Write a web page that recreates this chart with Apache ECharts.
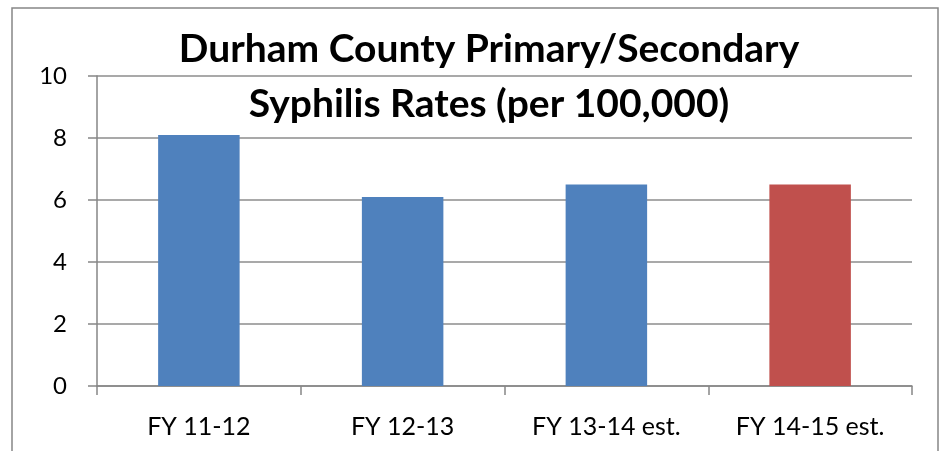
<!DOCTYPE html>
<html>
<head>
<meta charset="utf-8">
<script src="https://cdn.jsdelivr.net/npm/echarts@6/dist/echarts.min.js"></script>
<style>
html,body{margin:0;padding:0;background:#fff;}
#chart{width:945px;height:451px;}
</style>
</head>
<body>
<div id="chart"></div>
<script>
const categories = ['FY 11-12', 'FY 12-13', 'FY 13-14 est.', 'FY 14-15 est.'];
const rates = [8.1, 6.1, 6.5, 6.5];
const titleLines = ['Durham County Primary/Secondary', 'Syphilis Rates (per 100,000)'];
const yTicks = { min: 0, max: 10, interval: 2 };

const barColors = ['#4F81BD', '#4F81BD', '#4F81BD', '#C0504D'];
const FONT = 'Lato, "Open Sans", sans-serif';

const chart = echarts.init(document.getElementById('chart'), null, { renderer: 'canvas' });
chart.setOption({
  animation: false,
  backgroundColor: '#fff',
  graphic: [{
    type: 'rect',
    shape: { x: 12, y: 8, width: 926, height: 460 },
    style: { fill: 'none', stroke: '#868686', lineWidth: 1.5 },
    z: 0
  }],
  title: {
    text: titleLines.join('\n'),
    left: 484,
    top: 17,
    textAlign: 'center',
    textStyle: { fontFamily: FONT, fontWeight: 'bold', fontSize: 39, lineHeight: 55, color: '#000' }
  },
  grid: { left: 97, right: 33, top: 76, bottom: 65, containLabel: false },
  xAxis: {
    type: 'category',
    data: categories,
    axisLine: { show: true, lineStyle: { color: '#868686', width: 1.5 } },
    axisTick: { show: true, alignWithLabel: false, length: 9, lineStyle: { color: '#868686', width: 1.5 } },
    axisLabel: { fontFamily: FONT, fontSize: 25, color: '#000', margin: 28 }
  },
  yAxis: {
    type: 'value',
    min: yTicks.min, max: yTicks.max, interval: yTicks.interval,
    axisLine: { show: true, lineStyle: { color: '#868686', width: 1.5 } },
    axisTick: { show: true, length: 9, lineStyle: { color: '#868686', width: 1.5 } },
    splitLine: { show: true, lineStyle: { color: '#8c8c8c', width: 1.5 } },
    axisLabel: { fontFamily: FONT, fontSize: 24, color: '#000', margin: 30 }
  },
  series: [{
    type: 'bar',
    barWidth: '40%',
    data: rates.map((v, i) => ({ value: v, itemStyle: { color: barColors[i] } }))
  }]
});
</script>
</body>
</html>
